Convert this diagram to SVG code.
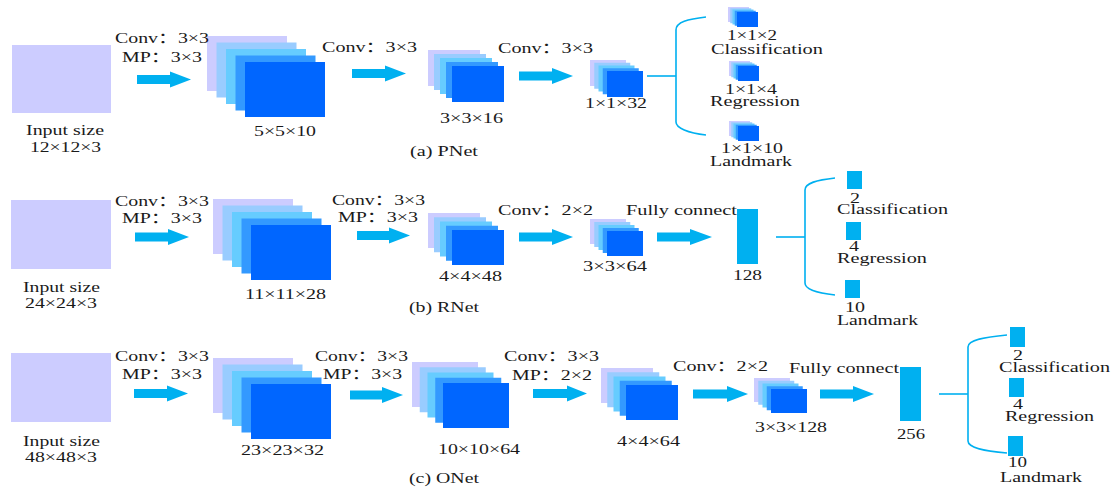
<svg xmlns="http://www.w3.org/2000/svg" width="1112" height="487" viewBox="0 0 1112 487">
<style>
text{font-family:"Liberation Serif","Times New Roman","Noto Sans CJK SC",serif;font-size:15px;fill:#1a1a1a}
.l1,.in{fill:#CCCCFF}.l2{fill:#99CCFF}.l3{fill:#66CCFF}.l4{fill:#3399FF}.l5{fill:#0066FF}
.bar,.arr{fill:#00B0F0}
.ln{fill:none;stroke:#00B0F0;stroke-width:1.6}
</style>
<rect width="1112" height="487" fill="#ffffff"/>

<!-- ===== PNet ===== -->
<g id="p-input"><rect class="in" x="12" y="45" width="99" height="68"/>
<text x="26" y="135" textLength="78" lengthAdjust="spacingAndGlyphs">Input size</text>
<text x="30" y="152" textLength="71" lengthAdjust="spacingAndGlyphs">12×12×3</text></g>
<g id="p-l1">
<rect class="l1" x="207" y="36" width="80" height="55"/><rect class="l2" x="216.5" y="42.5" width="80" height="55"/><rect class="l3" x="226" y="49" width="80" height="55"/><rect class="l4" x="235.5" y="55.5" width="80" height="55"/><rect class="l5" x="245" y="62" width="80" height="55"/>
<text x="254" y="136" textLength="62" lengthAdjust="spacingAndGlyphs">5×5×10</text></g>
<g id="p-l2">
<rect class="l1" x="428" y="50" width="52" height="36"/><rect class="l2" x="434" y="54" width="52" height="36"/><rect class="l3" x="440" y="58" width="52" height="36"/><rect class="l4" x="446" y="62" width="52" height="36"/><rect class="l5" x="452" y="66" width="52" height="36"/>
<text x="440" y="123" textLength="63" lengthAdjust="spacingAndGlyphs">3×3×16</text></g>
<g id="p-l3">
<rect class="l1" x="590" y="60" width="36" height="26"/><rect class="l2" x="594.25" y="62.75" width="36" height="26"/><rect class="l3" x="598.5" y="65.5" width="36" height="26"/><rect class="l4" x="602.75" y="68.25" width="36" height="26"/><rect class="l5" x="607" y="71" width="36" height="26"/>
<text x="585" y="108" textLength="62" lengthAdjust="spacingAndGlyphs">1×1×32</text></g>
<g id="p-cls">
<rect class="l1" x="728" y="7" width="21" height="15"/><rect class="l2" x="730.25" y="8.25" width="21" height="15"/><rect class="l3" x="732.5" y="9.5" width="21" height="15"/><rect class="l4" x="734.75" y="10.75" width="21" height="15"/><rect class="l5" x="737" y="12" width="21" height="15"/>
<text x="727" y="40" textLength="50" lengthAdjust="spacingAndGlyphs">1×1×2</text>
<text x="711" y="54" textLength="112" lengthAdjust="spacingAndGlyphs">Classification</text></g>
<g id="p-reg">
<rect class="l1" x="729" y="61" width="21" height="15"/><rect class="l2" x="731.25" y="62.25" width="21" height="15"/><rect class="l3" x="733.5" y="63.5" width="21" height="15"/><rect class="l4" x="735.75" y="64.75" width="21" height="15"/><rect class="l5" x="738" y="66" width="21" height="15"/>
<text x="725" y="94" textLength="52" lengthAdjust="spacingAndGlyphs">1×1×4</text>
<text x="710" y="106" textLength="90" lengthAdjust="spacingAndGlyphs">Regression</text></g>
<g id="p-lmk">
<rect class="l1" x="729" y="121" width="21" height="15"/><rect class="l2" x="731.25" y="122.25" width="21" height="15"/><rect class="l3" x="733.5" y="123.5" width="21" height="15"/><rect class="l4" x="735.75" y="124.75" width="21" height="15"/><rect class="l5" x="738" y="126" width="21" height="15"/>
<text x="721" y="153" textLength="62" lengthAdjust="spacingAndGlyphs">1×1×10</text>
<text x="710" y="166" textLength="82" lengthAdjust="spacingAndGlyphs">Landmark</text></g>
<g id="p-labels">
<text x="115" y="43" textLength="94" lengthAdjust="spacingAndGlyphs">Conv：3×3</text>
<text x="122" y="62" textLength="80" lengthAdjust="spacingAndGlyphs">MP：3×3</text>
<text x="322" y="52" textLength="95" lengthAdjust="spacingAndGlyphs">Conv：3×3</text>
<text x="498" y="53" textLength="95" lengthAdjust="spacingAndGlyphs">Conv：3×3</text>
<text x="410" y="156" textLength="68" lengthAdjust="spacingAndGlyphs">(a) PNet</text></g>

<!-- ===== RNet ===== -->
<g id="r-input"><rect class="in" x="11" y="200" width="100" height="69"/>
<text x="23" y="292" textLength="77" lengthAdjust="spacingAndGlyphs">Input size</text>
<text x="25" y="308" textLength="72" lengthAdjust="spacingAndGlyphs">24×24×3</text></g>
<g id="r-l1">
<rect class="l1" x="213" y="199" width="80" height="55"/><rect class="l2" x="222.5" y="205.5" width="80" height="55"/><rect class="l3" x="232" y="212" width="80" height="55"/><rect class="l4" x="241.5" y="218.5" width="80" height="55"/><rect class="l5" x="251" y="225" width="80" height="55"/>
<text x="245" y="299" textLength="81" lengthAdjust="spacingAndGlyphs">11×11×28</text></g>
<g id="r-l2">
<rect class="l1" x="428" y="213" width="52" height="35"/><rect class="l2" x="434" y="217.25" width="52" height="35"/><rect class="l3" x="440" y="221.5" width="52" height="35"/><rect class="l4" x="446" y="225.75" width="52" height="35"/><rect class="l5" x="452" y="230" width="52" height="35"/>
<text x="439" y="281" textLength="63" lengthAdjust="spacingAndGlyphs">4×4×48</text></g>
<g id="r-l3">
<rect class="l1" x="590" y="219" width="36" height="25"/><rect class="l2" x="594.25" y="222" width="36" height="25"/><rect class="l3" x="598.5" y="225" width="36" height="25"/><rect class="l4" x="602.75" y="228" width="36" height="25"/><rect class="l5" x="607" y="231" width="36" height="25"/>
<text x="583" y="271" textLength="64" lengthAdjust="spacingAndGlyphs">3×3×64</text></g>
<g id="r-fc"><rect class="bar" x="737" y="209" width="21" height="55"/>
<text x="733" y="280" textLength="29" lengthAdjust="spacingAndGlyphs">128</text></g>
<g id="r-cls"><rect class="bar" x="847" y="171" width="15" height="18"/>
<text x="850" y="203" textLength="10" lengthAdjust="spacingAndGlyphs">2</text>
<text x="837" y="214" textLength="111" lengthAdjust="spacingAndGlyphs">Classification</text></g>
<g id="r-reg"><rect class="bar" x="846" y="222" width="15" height="18"/>
<text x="849" y="251" textLength="10" lengthAdjust="spacingAndGlyphs">4</text>
<text x="837" y="263" textLength="90" lengthAdjust="spacingAndGlyphs">Regression</text></g>
<g id="r-lmk"><rect class="bar" x="845" y="280" width="15" height="18"/>
<text x="845" y="312" textLength="20" lengthAdjust="spacingAndGlyphs">10</text>
<text x="837" y="325" textLength="81" lengthAdjust="spacingAndGlyphs">Landmark</text></g>
<g id="r-labels">
<text x="115" y="206" textLength="94" lengthAdjust="spacingAndGlyphs">Conv：3×3</text>
<text x="122" y="223" textLength="80" lengthAdjust="spacingAndGlyphs">MP：3×3</text>
<text x="332" y="205" textLength="93" lengthAdjust="spacingAndGlyphs">Conv：3×3</text>
<text x="338" y="222" textLength="80" lengthAdjust="spacingAndGlyphs">MP：3×3</text>
<text x="498" y="215" textLength="95" lengthAdjust="spacingAndGlyphs">Conv：2×2</text>
<text x="626" y="215" textLength="111" lengthAdjust="spacingAndGlyphs">Fully connect</text>
<text x="409" y="312" textLength="70" lengthAdjust="spacingAndGlyphs">(b) RNet</text></g>

<!-- ===== ONet ===== -->
<g id="o-input"><rect class="in" x="11" y="353" width="100" height="69"/>
<text x="23" y="446" textLength="77" lengthAdjust="spacingAndGlyphs">Input size</text>
<text x="25" y="462" textLength="72" lengthAdjust="spacingAndGlyphs">48×48×3</text></g>
<g id="o-l1">
<rect class="l1" x="213" y="358" width="80" height="55"/><rect class="l2" x="222.5" y="364.5" width="80" height="55"/><rect class="l3" x="232" y="371" width="80" height="55"/><rect class="l4" x="241.5" y="377.5" width="80" height="55"/><rect class="l5" x="251" y="384" width="80" height="55"/>
<text x="241" y="455" textLength="83" lengthAdjust="spacingAndGlyphs">23×23×32</text></g>
<g id="o-l2">
<rect class="l1" x="412" y="362" width="66" height="45"/><rect class="l2" x="419.75" y="367.25" width="66" height="45"/><rect class="l3" x="427.5" y="372.5" width="66" height="45"/><rect class="l4" x="435.25" y="377.75" width="66" height="45"/><rect class="l5" x="443" y="383" width="66" height="45"/>
<text x="438" y="454" textLength="82" lengthAdjust="spacingAndGlyphs">10×10×64</text></g>
<g id="o-l3">
<rect class="l1" x="601" y="368" width="52" height="35"/><rect class="l2" x="607.25" y="372.25" width="52" height="35"/><rect class="l3" x="613.5" y="376.5" width="52" height="35"/><rect class="l4" x="619.75" y="380.75" width="52" height="35"/><rect class="l5" x="626" y="385" width="52" height="35"/>
<text x="617" y="446" textLength="63" lengthAdjust="spacingAndGlyphs">4×4×64</text></g>
<g id="o-l4">
<rect class="l1" x="754" y="378" width="36" height="24"/><rect class="l2" x="758.25" y="380.75" width="36" height="24"/><rect class="l3" x="762.5" y="383.5" width="36" height="24"/><rect class="l4" x="766.75" y="386.25" width="36" height="24"/><rect class="l5" x="771" y="389" width="36" height="24"/>
<text x="755" y="432" textLength="72" lengthAdjust="spacingAndGlyphs">3×3×128</text></g>
<g id="o-fc"><rect class="bar" x="900" y="367" width="21" height="54"/>
<text x="897" y="439" textLength="28" lengthAdjust="spacingAndGlyphs">256</text></g>
<g id="o-cls"><rect class="bar" x="1010" y="327" width="15" height="20"/>
<text x="1013" y="360" textLength="10" lengthAdjust="spacingAndGlyphs">2</text>
<text x="999" y="372" textLength="111" lengthAdjust="spacingAndGlyphs">Classification</text></g>
<g id="o-reg"><rect class="bar" x="1009" y="378" width="15" height="19"/>
<text x="1013" y="409" textLength="10" lengthAdjust="spacingAndGlyphs">4</text>
<text x="1005" y="421" textLength="89" lengthAdjust="spacingAndGlyphs">Regression</text></g>
<g id="o-lmk"><rect class="bar" x="1008" y="436" width="15" height="20"/>
<text x="1008" y="467" textLength="19" lengthAdjust="spacingAndGlyphs">10</text>
<text x="1000" y="482" textLength="82" lengthAdjust="spacingAndGlyphs">Landmark</text></g>
<g id="o-labels">
<text x="115" y="361" textLength="94" lengthAdjust="spacingAndGlyphs">Conv：3×3</text>
<text x="122" y="379" textLength="80" lengthAdjust="spacingAndGlyphs">MP：3×3</text>
<text x="315" y="361" textLength="93" lengthAdjust="spacingAndGlyphs">Conv：3×3</text>
<text x="323" y="379" textLength="79" lengthAdjust="spacingAndGlyphs">MP：3×3</text>
<text x="504" y="361" textLength="95" lengthAdjust="spacingAndGlyphs">Conv：3×3</text>
<text x="512" y="380" textLength="80" lengthAdjust="spacingAndGlyphs">MP：2×2</text>
<text x="673" y="371" textLength="95" lengthAdjust="spacingAndGlyphs">Conv：2×2</text>
<text x="789" y="373" textLength="110" lengthAdjust="spacingAndGlyphs">Fully connect</text>
<text x="409" y="483" textLength="70" lengthAdjust="spacingAndGlyphs">(c) ONet</text></g>

<!-- ===== connectors ===== -->
<g id="connectors">
<polygon class="arr" points="137,75 170,75 170,71.5 191,79.5 170,87.5 170,84 137,84"/>
<polygon class="arr" points="352,69 385,69 385,65.5 406,73.5 385,81.5 385,78 352,78"/>
<polygon class="arr" points="519,71.5 552,71.5 552,68 573,76 552,84 552,80.5 519,80.5"/>
<polygon class="arr" points="135,232.5 168,232.5 168,229 189,237 168,245 168,241.5 135,241.5"/>
<polygon class="arr" points="357,231 389,231 389,227.5 410,235.5 389,243.5 389,240 357,240"/>
<polygon class="arr" points="519,232.5 552,232.5 552,229 573,237 552,245 552,241.5 519,241.5"/>
<polygon class="arr" points="657,232.5 690,232.5 690,229 712,237 690,245 690,241.5 657,241.5"/>
<polygon class="arr" points="134,389 167,389 167,385.5 188,393.5 167,401.5 167,398 134,398"/>
<polygon class="arr" points="350,390.5 382,390.5 382,387 403,395 382,403 382,399.5 350,399.5"/>
<polygon class="arr" points="533,389 567,389 567,385.5 587,393.5 567,401.5 567,398 533,398"/>
<polygon class="arr" points="693,389.5 727,389.5 727,386 748,394 727,402 727,398.5 693,398.5"/>
<polygon class="arr" points="820,389.5 853,389.5 853,386 874,394 853,402 853,398.5 820,398.5"/>
<path class="ln" d="M647,76 H676"/>
<path class="ln" d="M706,17 C688,19 676,22 676,30 V122 C676,128 688,133 706,135"/>
<path class="ln" d="M776,237 H805"/>
<path class="ln" d="M835,178 C817,180 805,183 805,190 V283 C805,289 817,293 835,295"/>
<path class="ln" d="M939,394 H968"/>
<path class="ln" d="M1007,335 C985,337 968,340 968,347 V441 C968,448 985,451 1007,453"/>
</g>
</svg>
